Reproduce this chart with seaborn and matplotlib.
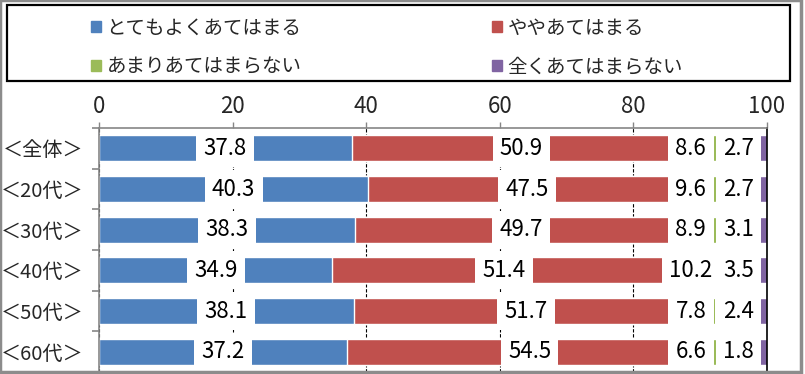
import numpy as np
import pandas as pd
import seaborn as sns
import matplotlib.pyplot as plt
from matplotlib.patches import Patch, Rectangle

categories = ['＜全体＞', '＜20代＞', '＜30代＞', '＜40代＞', '＜50代＞', '＜60代＞']
very = [37.8, 40.3, 38.3, 34.9, 38.1, 37.2]
somewhat = [50.9, 47.5, 49.7, 51.4, 51.7, 54.5]
not_much = [8.6, 9.6, 8.9, 10.2, 7.8, 6.6]
not_at_all = [2.7, 2.7, 3.1, 3.5, 2.4, 1.8]

series = ['とてもよくあてはまる', 'ややあてはまる', 'あまりあてはまらない', '全くあてはまらない']
colors = ['#4F81BD', '#C0504D', '#9BBB59', '#8064A2']


if __name__ == '__main__':
    sns.set_theme(style="white")
    plt.rcParams['font.family'] = ['Noto Sans CJK JP', 'DejaVu Sans']

    df = pd.DataFrame({'cat': categories, series[0]: very, series[1]: somewhat,
                       series[2]: not_much, series[3]: not_at_all})
    cum = df[series].cumsum(axis=1)
    lefts = cum - df[series]
    centers = lefts + df[series] / 2

    fig = plt.figure(figsize=(8.05, 3.74), dpi=100)
    ax = fig.add_axes([99 / 805, 1 - 372 / 374, 668 / 805, 244 / 374])

    # stacked bars: draw the running totals from the longest down
    for name, color in reversed(list(zip(series, colors))):
        sns.barplot(x=cum[name], y=df['cat'], color=color, saturation=1,
                    width=0.64, orient='h', errorbar=None, ax=ax)

    ax.set_xlim(0, 100)
    ax.set_xlabel('')
    ax.set_ylabel('')
    ax.set_axisbelow(True)
    ax.xaxis.grid(True, color='black', linestyle=(0, (3, 1.5)), linewidth=0.8)

    # value labels with white boxes; Excel pushes the two thin ones inside the plot
    label_x = centers.copy()
    label_x[series[3]] = np.minimum(centers[series[3]], 95.7)
    label_x[series[2]] = np.minimum(centers[series[2]], label_x[series[3]] - 7.1)
    for name in series:
        for i, v in enumerate(df[name]):
            ax.text(label_x[name][i], i, f'{v:.1f}', ha='center', va='center',
                    fontsize=16, color='black', zorder=4,
                    bbox=dict(boxstyle='square,pad=0.33', fc='white', ec='none'))

    ax.xaxis.tick_top()
    ax.set_xticks(range(0, 101, 20))
    ax.tick_params(axis='x', top=True, bottom=False, labeltop=True, labelbottom=False,
                   length=4.5, width=1, color='#868686', direction='out', pad=3, labelsize=16)
    ax.tick_params(axis='y', which='major', left=False, length=0, pad=11, labelsize=14.5)
    ax.set_yticks(np.arange(-0.5, len(categories)), minor=True)
    ax.tick_params(axis='y', which='minor', left=True, length=5, width=1.2,
                   color='#868686', direction='out')

    for side in ['top', 'left']:
        ax.spines[side].set_color('#868686')
        ax.spines[side].set_linewidth(1.2)
    ax.spines['right'].set_color('black')
    ax.spines['right'].set_linewidth(1.2)
    ax.spines['bottom'].set_visible(False)

    handles = [Patch(color=colors[0]), Patch(color=colors[2]),
               Patch(color=colors[1]), Patch(color=colors[3])]
    labels = [series[0], series[2], series[1], series[3]]
    fig.legend(handles, labels, ncol=2, loc='center left',
               bbox_to_anchor=(91 / 805, 1 - 47.5 / 374), frameon=False,
               fontsize=14, handlelength=0.5, handleheight=0.5, handletextpad=0.3,
               columnspacing=9.8, borderpad=0, borderaxespad=0, labelspacing=0.9)
    fig.add_artist(Rectangle((7 / 805, 1 - 81 / 374), 783 / 805, 76 / 374,
                             transform=fig.transFigure, fill=False, ec='black', lw=1.6))
    fig.add_artist(Rectangle((0, 1 - 372 / 374), 801 / 805, 372 / 374,
                             transform=fig.transFigure, fill=False, ec='#8c8c8c', lw=2.5))

    plt.savefig('out.png', dpi=100)
